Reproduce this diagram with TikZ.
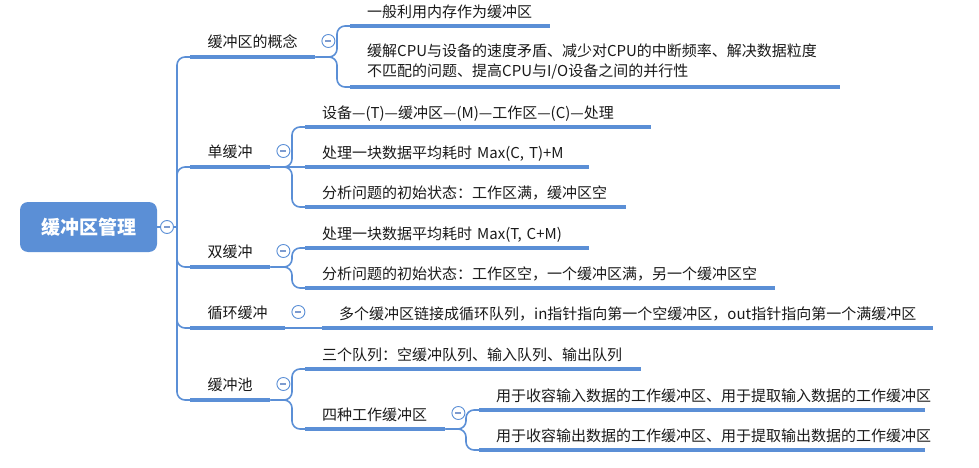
\documentclass[tikz,border=0pt]{standalone}
\usepackage{fontspec}
\setmainfont{Noto Sans CJK SC}
\usetikzlibrary{positioning,calc}
\definecolor{xmblue}{HTML}{5B8FD6}
\definecolor{xmfold}{HTML}{7D9BCF}
\definecolor{xmtext}{HTML}{1A1A1A}
\tikzset{
  rootbox/.style={rectangle, rounded corners=8pt, fill=xmblue, text=white,
                  minimum width=137pt, minimum height=50pt, inner sep=0pt,
                  font=\fontsize{19}{22}\selectfont\bfseries},
  topic/.style={anchor=south west, inner xsep=0pt, inner ysep=6pt, text height=11pt,
                text depth=3pt, align=center, text=xmtext, font=\fontsize{15}{20}\selectfont},
  leaf/.style={anchor=south west, inner xsep=17pt, inner ysep=5pt, text height=11pt,
               text depth=3pt, align=left, text=xmtext, font=\fontsize{15}{20}\selectfont},
  uline/.style={draw=xmblue, line width=4pt},
  conn/.style={draw=xmblue, line width=1.6pt, rounded corners=8pt},
  fold/.style={circle, draw=xmblue, fill=white, line width=0.9pt, minimum size=13pt,
               inner sep=0pt, path picture={\draw[xmfold, line width=1.3pt]
               ([xshift=-3pt]path picture bounding box.center) --
               ([xshift=3pt]path picture bounding box.center);}}
}
\begin{document}
\begin{tikzpicture}[x=1pt, y=-1pt]
\useasboundingbox (0,0) rectangle (979,468);
% root
\node[rootbox] (root) at (88.5,227) {缓冲区管理};
\node[fold] (rootm) at (167,227) {};
\coordinate (trunk) at (177,227);
% first level
\node[topic, minimum width=125pt] (c1) at (190,57) {缓冲区的概念};
\node[topic, minimum width=80pt] (c2) at (190,167) {单缓冲};
\node[topic, minimum width=80pt] (c3) at (190,267) {双缓冲};
\node[topic, minimum width=95pt] (c4) at (190,328) {循环缓冲};
\node[topic, minimum width=80pt] (c5) at (190,400) {缓冲池};
% second level
\node[leaf, text width=166pt] (a1) at (350,26) {一般利用内存作为缓冲区};
\node[leaf, text width=456pt, text height={}, text depth={}, inner ysep=8pt] (a2) at (350,87) {缓解CPU与设备的速度矛盾、减少对CPU的中断频率、解决数据粒度\\不匹配的问题、提高CPU与I/O设备之间的并行性};
\node[leaf, text width=312pt] (b1) at (305,127) {设备—(T)—缓冲区—(M)—工作区—(C)—处理};
\node[leaf, text width=250pt] (b2) at (305,167) {处理一块数据平均耗时 Max(C, T)+M};
\node[leaf, text width=287pt] (b3) at (305,207) {分析问题的初始状态：工作区满，缓冲区空};
\node[leaf, text width=250pt] (d1) at (305,248) {处理一块数据平均耗时 Max(T, C+M)};
\node[leaf, text width=436pt] (d2) at (305,288) {分析问题的初始状态：工作区空，一个缓冲区满，另一个缓冲区空};
\node[leaf, text width=577pt] (e1) at (322,328) {多个缓冲区链接成循环队列，in指针指向第一个空缓冲区，out指针指向第一个满缓冲区};
\node[leaf, text width=302pt] (f1) at (305,369) {三个队列：空缓冲队列、输入队列、输出队列};
\node[leaf, text width=106pt] (f2) at (305,429) {四种工作缓冲区};
% third level
\node[leaf, text width=412pt] (g1) at (479,410) {用于收容输入数据的工作缓冲区、用于提取输入数据的工作缓冲区};
\node[leaf, text width=412pt] (g2) at (479,450) {用于收容输出数据的工作缓冲区、用于提取输出数据的工作缓冲区};
% connectors
\draw[conn] (root) -- (rootm);
\draw[conn] (rootm) -- (trunk);
\foreach \t in {c1,c2,c3,c4,c5}
  \draw[conn] (trunk) |- (\t.south west);
\foreach \p/\c in {c1/a1,c1/a2,c2/b1,c2/b3,c3/d1,c3/d2,c5/f1,c5/f2,f2/g1,f2/g2}
  \draw[conn] (\p.south east) -| ($(\c.south west)+(-13,0)$) -- (\c.south west);
\foreach \p/\c in {c2/b2,c4/e1}
  \draw[conn] (\p.south east) -- (\c.south west);
% underlines
\foreach \n in {c1,c2,c3,c4,c5,a1,a2,b1,b2,b3,d1,d2,e1,f1,f2,g1,g2}
  \draw[uline] (\n.south west) -- (\n.south east);
% fold marks
\foreach \n in {c1,c2,c3,c4,c5,f2}
  \node[fold] (\n m) at ($(\n.south east)+(13,-16)$) {};
\end{tikzpicture}
\end{document}
